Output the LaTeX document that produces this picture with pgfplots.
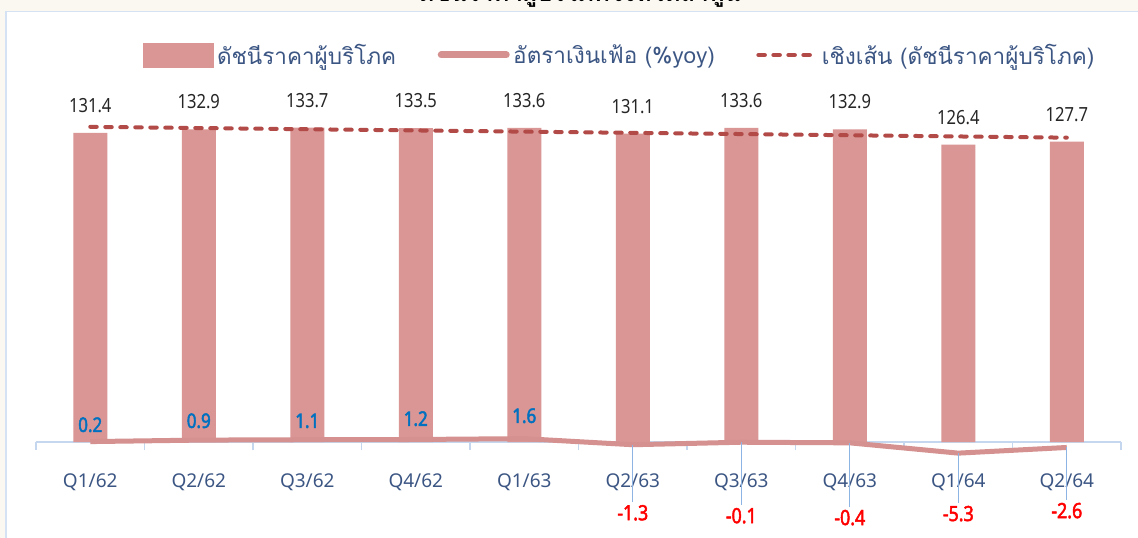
\documentclass[border=0pt]{standalone}
\usepackage{fontspec}
\usepackage{pgfplots}
\usepackage{pgfplotstable}
\pgfplotsset{compat=1.18}
\setmainfont{Noto Sans}
\newfontfamily\thaifont[Script=Thai]{Loma}
\newfontfamily\numfont[FakeStretch=0.85]{Noto Sans}
\newfontfamily\numbold[FakeStretch=0.85, FakeBold=2.2]{Noto Sans}

\definecolor{bgbeige}{RGB}{251,248,241}
\definecolor{framecol}{RGB}{212,226,244}
\definecolor{axiscol}{RGB}{197,215,238}
\definecolor{barcol}{RGB}{217,150,148}
\definecolor{linecol}{RGB}{212,145,144}
\definecolor{trendcol}{RGB}{178,74,72}
\definecolor{labcol}{RGB}{60,86,132}
\definecolor{poscol}{RGB}{0,112,192}
\definecolor{negcol}{RGB}{255,0,0}
\definecolor{leadcol}{RGB}{141,180,226}

\pgfplotstableread{
x cpi
0 131.4
1 132.9
2 133.7
3 133.5
4 133.6
5 131.1
6 133.6
7 132.9
8 126.4
9 127.7
}\cpidata

\pgfplotstableread{
x inf
0 0.2
1 0.9
2 1.1
3 1.2
4 1.6
5 -1.3
6 -0.1
7 -0.4
8 -5.3
9 -2.6
}\infdata

% positive labels: x, label position (secondary units), text
\pgfplotstableread{
x y lab
0 8.2 0.2
1 10.1 0.9
2 10.1 1.1
3 11.1 1.2
4 12.5 1.6
}\posdata

% negative labels: x, label position, leader length up to the point, text
\pgfplotstableread{
x y e lab
5 -33.7 32.4 -1.3
6 -35.1 35.0 -0.1
7 -36.0 35.6 -0.4
8 -34.1 28.8 -5.3
9 -32.7 30.1 -2.6
}\negdata

\begin{document}
\begin{tikzpicture}
\useasboundingbox (0pt,0pt) rectangle (1138pt,-538pt);
\fill[bgbeige] (0pt,0pt) rectangle (1138pt,-538pt);
\fill[white] (6pt,-11.5pt) rectangle (1138pt,-538pt);
\draw[framecol, line width=1.5pt] (6pt,-538pt) -- (6pt,-11.5pt) -- (1138pt,-11.5pt);
\node[anchor=base, inner sep=0pt, font=\thaifont\bfseries\fontsize{24}{28}\selectfont] at (580pt,-1.5pt) {ดัชนีราคาผู้บริโภคจังหวัดลำพูน};

% primary axis: CPI bars and trend
\begin{axis}[
  at={(36pt,-442pt)}, anchor=south west,
  scale only axis, width=1085pt, height=352.8pt,
  xmin=-0.5, xmax=9.5, ymin=0, ymax=150,
  axis y line=none,
  axis x line*=bottom,
  x axis line style={draw=axiscol, line width=1.2pt},
  xtick={0,...,9},
  xticklabels={Q1/62,Q2/62,Q3/62,Q4/62,Q1/63,Q2/63,Q3/63,Q4/63,Q1/64,Q2/64},
  major tick length=0pt,
  xtick align=outside,
  extra x ticks={-0.5,0.5,...,9.5},
  extra x tick labels={},
  extra x tick style={major tick length=8pt, tick style={draw=axiscol, line width=1.2pt}},
  xticklabel style={anchor=base, yshift=-45pt, text=labcol, font=\fontsize{19}{22}\selectfont},
  clip=false,
]
\addplot[ybar, bar width=34pt, bar shift=0pt, fill=barcol, draw=none,
  nodes near coords, nodes near coords align=vertical,
  every node near coord/.append style={inner sep=0pt, yshift=20pt, text=black!85,
    font=\numfont\fontsize{19.5}{22}\selectfont, /pgf/number format/.cd, fixed, fixed zerofill, precision=1, assume math mode=true}]
  table[x=x, y=cpi] {\cpidata};
\addplot[trendcol, line width=4pt, line cap=round, dash pattern=on 6.5pt off 8.5pt]
  coordinates {(0,134.0) (9,129.4)};
\end{axis}

% secondary axis: inflation line and its labels, legend
\begin{axis}[
  at={(36pt,-442pt)}, anchor=south west,
  scale only axis, width=1085pt, height=352.8pt,
  xmin=-0.5, xmax=9.5, ymin=0, ymax=168,
  hide axis, clip=false,
  legend columns=3,
  legend style={at={(0.5387,1.097)}, anchor=center, draw=none, fill=none,
    inner sep=0pt, outer sep=0pt,
    font=\thaifont\fontsize{22.5}{26}\selectfont, text=labcol,
    /tikz/every even column/.append style={column sep=38pt},
    nodes={inner sep=3.5pt}},
]
\addlegendimage{legend image code/.code={\fill[barcol] (0pt,-12pt) rectangle (70pt,12pt);}}
\addlegendentry{ดัชนีราคาผู้บริโภค}
\addplot[linecol, line width=5pt, line join=round,
  legend image code/.code={\draw[linecol, line width=7pt, line cap=round] (3pt,0pt) -- (68pt,0pt);}]
  table[x=x, y=inf] {\infdata};
\addlegendentry{อัตราเงินเฟ้อ (\%yoy)}
\addlegendimage{legend image code/.code={\draw[trendcol, line width=4pt, line cap=round, dash pattern=on 6.5pt off 8.5pt] (0pt,0pt) -- (58pt,0pt);}}
\addlegendentry{เชิงเส้น (ดัชนีราคาผู้บริโภค)}

\addplot[forget plot, draw=none, mark=none,
  nodes near coords, point meta=explicit symbolic,
  every node near coord/.append style={anchor=center, inner sep=0pt, text=poscol,
    font=\numbold\fontsize{20}{23}\selectfont}]
  table[x=x, y=y, meta=lab] {\posdata};

\addplot[forget plot, draw=none, mark=none,
  error bars/.cd, y dir=plus, y explicit,
  error mark=none, error bar style={leadcol, line width=1.2pt}]
  table[x=x, y=y, y error plus=e] {\negdata};
\addplot[forget plot, draw=none, mark=none,
  nodes near coords, point meta=explicit symbolic,
  every node near coord/.append style={anchor=center, inner sep=3pt, fill=white, text=negcol,
    font=\numbold\fontsize{21}{24}\selectfont}]
  table[x=x, y=y, meta=lab] {\negdata};
\end{axis}
\end{tikzpicture}
\end{document}
